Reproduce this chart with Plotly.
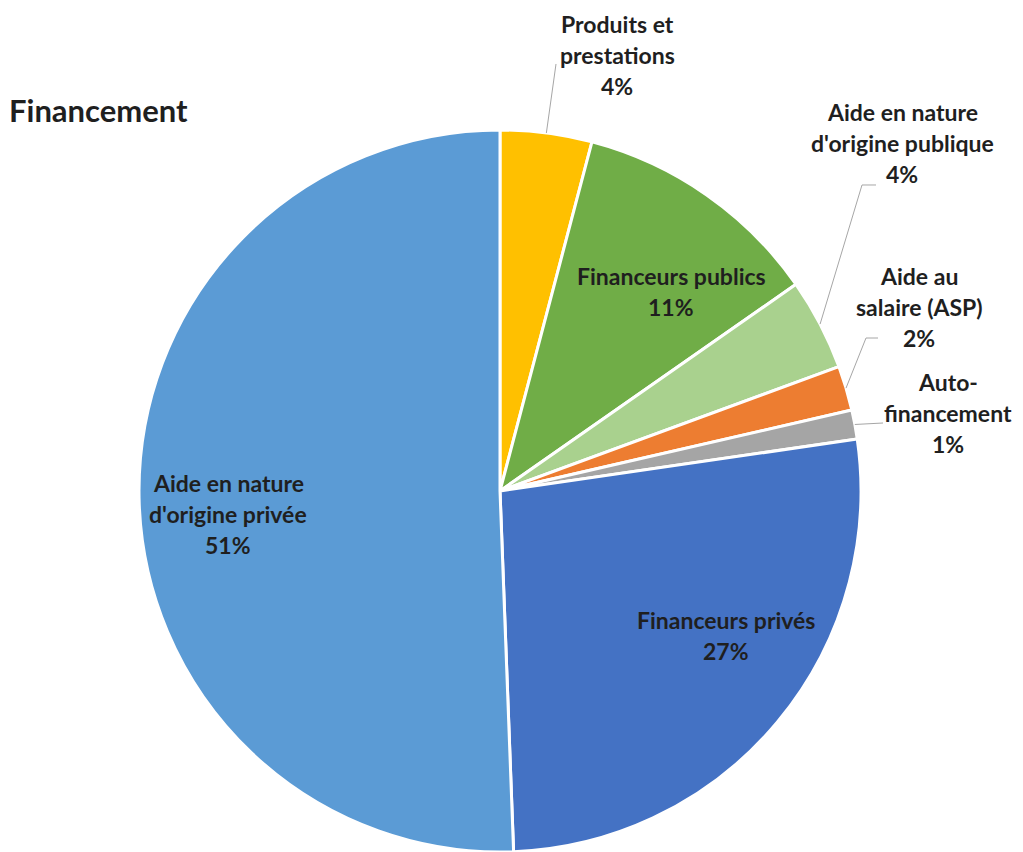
import math
import plotly.graph_objects as go

# ---- data ----
labels = ["Produits et prestations", "Financeurs publics", "Aide en nature d'origine publique",
          "Aide au salaire (ASP)", "Auto-financement", "Financeurs privés",
          "Aide en nature d'origine privée"]
values = [4.1, 11.2, 4.1, 2.0, 1.3, 26.7, 50.6]
colors = ["#FFC000", "#70AD47", "#A9D18E", "#ED7D31", "#A5A5A5", "#4472C4", "#5B9BD5"]
label_lines = [["Produits et", "prestations"], ["Financeurs publics"], ["Aide en nature", "d'origine publique"],
               ["Aide au", "salaire (ASP)"], ["Auto-", "financement"], ["Financeurs privés"],
               ["Aide en nature", "d'origine privée"]]
title_text = "Financement"

# ---- layout constants (pixels) ----
W, H = 1023, 852
CX, R = 500, 363
TOP = 130
# label centre positions (x, y of first line) and line spacing
label_pos = [(617, 24), (671, 276), (902, 112), (919, 276), (948, 382), (726, 620), (228, 483)]
LS = 31
# leader line elbows for outside labels (index -> list of pixel points)
leaders = {0: [(556, 64)], 2: [(862, 185), (876, 185)], 3: [(866, 338), (878, 338)], 4: [(883, 423)]}

def px(x):
    return x / W

def py(y):
    return 1 - y / H

dom_h = (H - TOP) / H
r_eff = min(2 * R, H - TOP) / 2
cy = H - r_eff

fig = go.Figure(go.Pie(
    labels=labels, values=values, sort=False, direction="clockwise", rotation=0,
    marker=dict(colors=colors, line=dict(color="white", width=3)),
    textinfo="none", hoverinfo="label+percent", showlegend=False,
    domain=dict(x=[px(CX - R), px(CX + R)], y=[0, dom_h]),
))

total = sum(values)
annotations = []
shapes = []
FONT = dict(family="Lato, 'Open Sans', sans-serif", size=23, color="#1f1f1f")
cum = 0
for i, (lab, v) in enumerate(zip(label_lines, values)):
    frac = v / total
    mid = cum + frac / 2
    cum += frac
    lines = lab + ["{:.0%}".format(frac)]
    x0, y0 = label_pos[i]
    for k, t in enumerate(lines):
        annotations.append(dict(text="<b>%s</b>" % t, x=px(x0), y=py(y0 + k * LS), xref="paper", yref="paper",
                                xanchor="center", yanchor="middle", showarrow=False, font=FONT))
    if i in leaders:
        th = 2 * math.pi * mid
        sx = CX + r_eff * math.sin(th)
        sy = cy - r_eff * math.cos(th)
        pts = [(sx, sy)] + leaders[i]
        path = "M " + " L ".join("%f,%f" % (px(a), py(b)) for a, b in pts)
        shapes.append(dict(type="path", path=path, xref="paper", yref="paper",
                           line=dict(color="#A6A6A6", width=1)))

annotations.append(dict(text="<b>%s</b>" % title_text, x=px(7), y=py(110), xref="paper", yref="paper",
                        xanchor="left", yanchor="middle", showarrow=False,
                        font=dict(family="Lato, 'Open Sans', sans-serif", size=31, color="#1f1f1f")))

fig.update_layout(width=W, height=H, margin=dict(l=0, r=0, t=0, b=0),
                  paper_bgcolor="white", plot_bgcolor="white",
                  annotations=annotations, shapes=shapes)
fig.write_html("out.html")
